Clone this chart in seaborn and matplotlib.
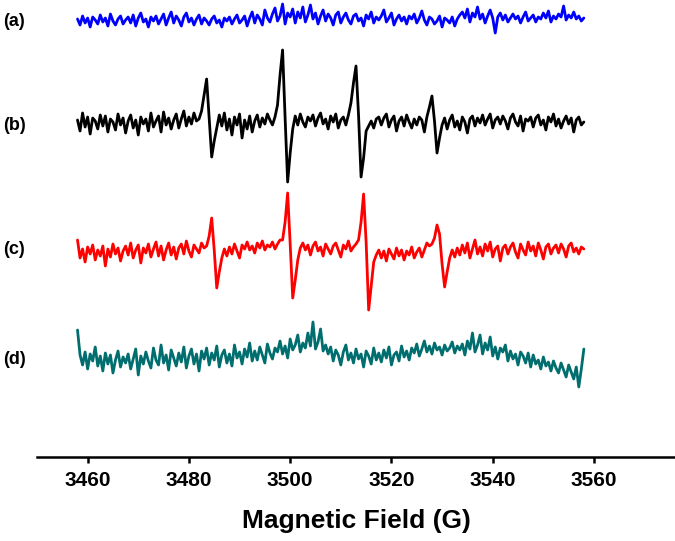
import numpy as np
import pandas as pd
import matplotlib
matplotlib.use("Agg")
import matplotlib.pyplot as plt
import seaborn as sns

# ==========================================
# DATA (EPR spectra, arbitrary intensity units)
# ==========================================
field_start = 3458.0
field_end = 3558.0
field = np.linspace(field_start, field_end, 201)   # 0.5 G steps

spec_a = [2, -4, 5, -2, 3, -6, 4, 1, -3, 6,
          -1, 3, -5, 7, 0, -4, 2, 5, -3, 1,
          4, -2, 6, -5, 3, 8, -1, 2, -6, 4,
          0, 5, -3, 2, 7, -4, 3, 9, -2, 5,
          1, -5, 4, 8, -1, 3, -4, 2, 6, -3,
          3, 0, -4, 2, 5, -2, 1, -6, 3, 0,
          4, -3, 2, 6, -2, 1, 5, -5, 3, 9,
          -2, 6, 2, -4, 11, 3, -1, 7, 13, 0,
          5, 17, -3, 8, 4, 12, -2, 9, 3, 14,
          -1, 6, 16, 2, 8, -3, 5, 11, 0, 7,
          3, -4, 6, 9, -2, 4, 8, 1, -3, 5,
          7, 0, 3, -5, 6, 2, 9, -2, 4, 1,
          5, 11, -1, 3, 8, -4, 2, 6, 0, 4,
          -3, 5, 2, 7, -2, 3, 10, 1, -4, 4,
          2, -3, 0, 5, -6, 3, 1, -2, 4, -5,
          2, 6, 9, 3, 12, -1, 8, 4, 14, 2,
          7, -2, 5, 11, 3, -12, 4, 8, 1, 6,
          -1, 3, 7, 2, 5, -2, 4, 9, 0, 3,
          6, -1, 4, 2, 8, 3, 10, -1, 5, 2,
          7, 4, 15, 1, 6, 3, 9, 2, 5, 0,
          3]

spec_b = [3, -8, 10, -4, 6, -11, 5, 2, -6, 8,
          -3, 7, -9, 4, 1, -7, 9, -2, 5, -10,
          2, 8, -5, 3, -12, 6, -1, 4, -8, 10,
          -4, 2, 7, -9, 11, -2, 5, -6, 3, 9,
          -5, 4, 12, -3, 6, -1, 10, 2, 4, 12,
          28, 44, 5, -34, -18, -5, 8, -3, 10, -7,
          4, -12, 6, -2, 9, -15, 3, -6, 7, -9,
          2, 8, -4, 5, -1, 9, 3, -2, 6, 18,
          48, 73, 5, -59, -30, -6, 7, -2, 9, 1,
          -4, 6, 2, 8, -3, 5, 10, -1, 4, -6,
          7, 1, 9, -5, 3, 6, -2, 8, 20, 40,
          57, 8, -54, -35, -8, -3, 2, -5, 4, 6,
          -2, 5, 9, -4, 3, 7, -8, 2, 6, -3,
          8, 1, -5, 4, -2, 6, 3, -9, 6, 16,
          27, 2, -30, -15, -2, 5, -6, 3, 8, -4,
          2, -7, 6, 1, -10, 4, 7, -3, 5, 0,
          8, -2, 4, 9, -5, 3, 6, -1, 7, 2,
          -6, 5, 9, 1, -3, 7, -8, 4, 2, 6,
          -4, 5, 8, -2, 3, -7, 6, 1, 9, -3,
          4, -5, 2, 7, -1, 5, -9, 3, 6, -2,
          1]

spec_c = [12, -6, 3, -10, 5, -2, 7, -8, 2, -4,
          6, -14, 3, -5, 8, -2, 4, -9, 1, 6,
          -3, 9, -6, 2, 7, -11, 4, -1, 8, -5,
          3, 10, -4, 6, -8, 2, 9, -3, 5, -7,
          4, 8, -2, 11, 1, -5, 7, 3, -1, 9,
          4, 6, 16, 34, 2, -36, -20, -6, 3, -4,
          5, -2, 8, 1, -6, 7, 3, 10, 2, 6,
          -1, 9, 4, 11, 2, 7, 5, 10, 3, 8,
          12, 12, 30, 59, 8, -46, -28, -8, 4, 9,
          2, 7, -3, 6, 10, 1, 5, -4, 8, 3,
          -2, 6, 9, 2, -5, 7, 3, 11, 1, 5,
          8, 12, 30, 58, 10, -58, -34, -10, -3, 2,
          -6, 1, -9, 3, -2, -7, 4, -4, 2, -8,
          1, -3, 5, -6, 0, 4, -5, 2, 9, 6,
          8, 14, 27, 18, -12, -35, -20, -6, 2, -5,
          4, -3, 7, -1, 9, -6, 3, 12, -2, 5,
          -4, 8, 1, 10, -5, 3, 6, -9, 4, 7,
          -2, 5, 9, 0, -6, 8, 2, -3, 10, 1,
          6, -4, 9, 2, -7, 5, 8, -2, 4, 7,
          -1, 8, 3, -5, 6, 9, 0, 4, -2, 5,
          3]

spec_d = [27, 2, -8, 5, -12, 3, -4, 10, -9, 1,
          -14, 4, -7, 2, -16, -3, 6, -10, 0, -6,
          3, -12, -2, 8, -18, 1, -7, 5, -4, -11,
          9, -3, -8, 12, -6, 2, -13, 7, -1, -9,
          4, -5, 10, -11, 1, 8, -7, 3, -14, 6,
          -2, 9, -8, 4, -3, 11, -10, 2, 7, -6,
          3, -9, 12, -1, 5, -7, 8, 0, 14, -4,
          6, -3, 10, 2, -6, 13, 4, -2, 9, 5,
          16, 3, 11, -1, 18, 7, 12, 22, 5, 14,
          9, 24, 11, 35, 8, 15, 28, 6, 12, 3,
          10, -4, 7, 2, -8, 5, 12, -3, 4, -6,
          8, -2, 3, -10, 6, 1, -7, 9, -3, 4,
          -5, 7, -1, 10, -8, 2, 5, -4, 11, 0,
          6, -3, 9, 4, 13, 1, 8, 16, 5, 11,
          3, 14, 7, 10, 2, 12, 6, 9, 15, 4,
          11, 7, 13, 2, 16, 8, 24, 5, 12, 22,
          3, 14, 7, 20, 1, 10, -2, 9, 5, 12,
          -4, 6, -2, 3, -8, 5, 1, -6, 4, -10,
          2, -7, -3, -12, 0, -9, -5, -14, -4, -11,
          -16, -6, -13, -20, -8, -15, -22, -10, -30, -12,
          8]

labels = ["(a)", "(b)", "(c)", "(d)"]
xticks = [3460, 3480, 3500, 3520, 3540, 3560]

# ==========================================
# STYLE
# ==========================================
sns.set_style("white")
plt.rcParams["font.family"] = ["Liberation Sans", "DejaVu Sans"]
plt.rcParams["font.weight"] = "bold"
plt.rcParams["text.color"] = "black"
plt.rcParams["axes.labelcolor"] = "black"
plt.rcParams["xtick.color"] = "black"

colors = ["#0000ff", "#000000", "#ff0000", "#006e6e"]
offsets = [436, 334, 205, 100]
label_y = [22, 125, 249, 360]

W, H = 675, 541
fig = plt.figure(figsize=(W / 100, H / 100), dpi=100)
ax = fig.add_axes([37 / W, (H - 457) / H, (W - 37) / W, 457 / H])

for spec, col, off in zip([spec_a, spec_b, spec_c, spec_d], colors, offsets):
    df = pd.DataFrame({"field": field, "signal": np.array(spec) + off})
    sns.lineplot(data=df, x="field", y="signal", color=col, lw=2.0,
                 estimator=None, sort=False, ax=ax)

for lab, py in zip(labels, label_y):
    fig.text(3 / W, 1 - py / H, lab, fontsize=13, fontweight="bold",
             ha="left", va="center", color="black")

ax.set_xlim(3450, 3576)
ax.set_ylim(0, 457)
ax.set_xticks(xticks)
ax.set_xticklabels([str(t) for t in xticks], fontsize=15, fontweight="bold")
ax.set_yticks([])
ax.set_ylabel("")
ax.set_xlabel("Magnetic Field (G)", fontsize=19, fontweight="bold",
              labelpad=14, color="black")
for s in ["left", "top", "right"]:
    ax.spines[s].set_visible(False)
ax.spines["bottom"].set_linewidth(1.8)
ax.spines["bottom"].set_color("black")
ax.tick_params(axis="x", direction="out", length=4, width=1.8, pad=6,
               colors="black", bottom=True)

fig.savefig("out.png", dpi=100)
